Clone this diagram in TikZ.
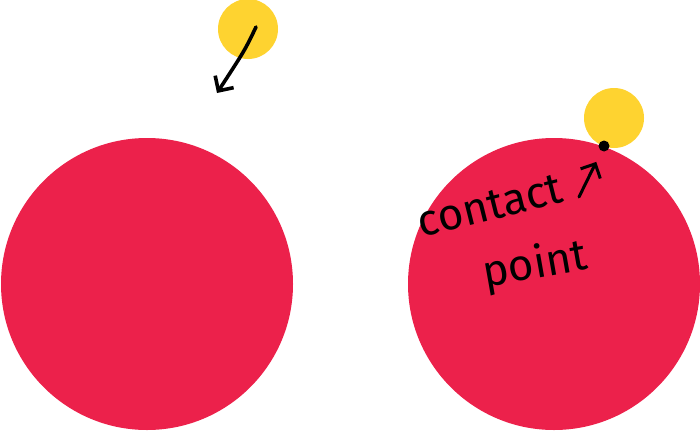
\documentclass[tikz,border=0pt]{standalone}
\usepackage{fontspec}
\setmainfont{Fira Sans}
\usetikzlibrary{arrows.meta, positioning}
\definecolor{BallRed}{HTML}{EC214B}
\definecolor{BallYellow}{HTML}{FED330}
\tikzset{
  bigball/.style={circle, fill=BallRed, minimum size=292pt, inner sep=0pt},
  smallball/.style={circle, fill=BallYellow, minimum size=60pt, inner sep=0pt},
  hand/.style={font=\fontsize{44}{44}\selectfont, inner sep=0pt},
  pen/.style={-{Straight Barb[length=11pt, width=22pt]}, line width=3.6pt,
    line cap=round, line join=round, draw=black},
}
\begin{document}
\begin{tikzpicture}[x=1pt, y=-1pt]
    \useasboundingbox (0,0) rectangle (700,431);
    % before
    \node[bigball] (bl) at (147,284) {};
    \node[smallball] (sl) at (248,29) {};
    \coordinate (fall) at (217,93);
    \draw[pen] (256,27) .. controls (245,50) .. (fall);
    % after
    \node[bigball] (br) at (554,284) {};
    \node[smallball] (sr) at (614,118) {};
    \node[circle, fill=black, minimum size=11pt, inner sep=0pt] (cp) at (604,146) {};
    \node[hand, rotate=14] (contact) at (490,206) {contact};
    \node[hand, rotate=10] (point) at (535,266) {point};
    \coordinate (tail) at (579,197);
    \draw[pen, line width=3pt, shorten >=12pt] (tail) -- (cp);
\end{tikzpicture}
\end{document}
